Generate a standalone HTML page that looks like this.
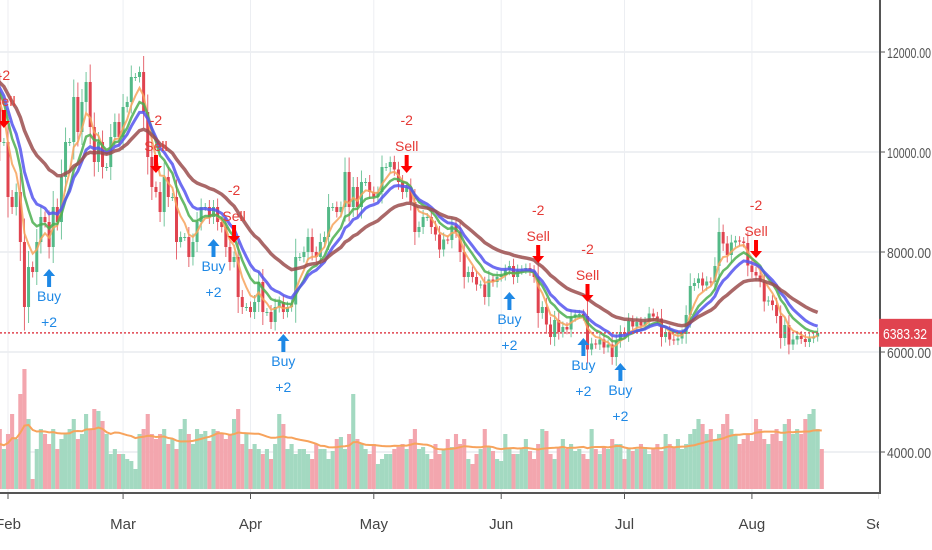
<!DOCTYPE html>
<html><head><meta charset="utf-8"><style>
html,body{margin:0;padding:0;background:#fff;}
svg{display:block;font-family:"Liberation Sans",sans-serif;}
</style></head><body>
<svg id="chart" width="932" height="550" viewBox="0 0 932 550"></svg>
<script>
const closes=[11500,11200,10200,10200,9100,8900,9200,8200,6900,7700,7600,8200,8700,8600,8100,8900,8600,9500,10200,10200,11100,10400,11000,11400,10500,9800,10200,9700,9700,10300,10600,10300,
10900,11000,11500,11500,11600,10800,9900,9300,9200,8800,9500,9100,9100,8200,8300,8300,7900,8200,8600,8900,8900,8700,8900,8600,8500,8100,7800,7900,7100,6900,6900,
6800,7000,7400,6800,6800,6600,6900,7000,6800,6900,6950,7900,7900,8000,8300,8000,7900,8200,8300,8900,8900,8800,8900,9600,8900,9300,8900,9400,9400,9200,
9100,9200,9700,9700,9800,9650,9400,9200,9300,9000,8400,8500,8700,8700,8500,8350,8050,8250,8240,8530,8400,8000,7500,7600,7500,7350,7350,7100,7450,7400,7500,
7540,7640,7720,7500,7630,7650,7680,7620,7500,6780,6900,6550,6300,6640,6400,6500,6450,6700,6750,6760,6720,6050,6170,6150,6250,6090,6150,5900,6220,6400,
6360,6620,6510,6600,6530,6600,6770,6710,6670,6300,6400,6250,6230,6270,6360,6740,7320,7380,7470,7330,7410,7400,7720,8400,8170,7940,8190,8230,8210,8180,7730,
7600,7530,7410,7010,7030,6940,6720,6280,6540,6150,6250,6320,6260,6200,6270,6310,6383];
const volumes=[30,45,60,40,55,75,50,95,120,70,10,40,60,55,45,60,40,50,55,60,70,50,55,75,60,80,78,68,55,35,40,35,35,30,28,20,
55,60,75,55,50,55,60,45,50,40,60,70,55,45,60,55,58,48,60,58,55,50,55,70,80,45,55,
40,45,40,35,40,30,45,75,65,40,45,35,40,40,35,30,45,40,40,30,38,50,52,40,55,95,50,45,40,35,45,
25,30,35,35,40,42,45,40,50,60,40,42,35,30,45,35,40,50,42,55,45,50,30,25,35,40,60,42,38,30,28,
55,40,35,35,40,50,38,30,45,60,58,35,30,42,50,40,45,38,40,35,30,60,40,35,42,40,50,45,45,30,
40,38,40,45,42,35,40,45,38,55,45,42,50,40,45,55,60,70,65,55,60,50,55,65,75,60,55,45,50,55,48,
70,60,50,45,55,60,48,65,70,55,60,55,70,75,80,60,40];
const sellIdx=[3,40,59,101,133,145,186];
const buyIdx=[14,54,71,126,144,153];
const yTicks=[12000,10000,8000,6000,4000];
const months=["Feb","Mar","Apr","May","Jun","Jul","Aug","Sep"];
const monthIdx=[4,32,63,93,124,154,185,216];
const lastPrice=6383.32;

const svg=document.getElementById('chart');
const NS='http://www.w3.org/2000/svg';
function el(t,a,p){const e=document.createElementNS(NS,t);for(const k in a)e.setAttribute(k,a[k]);(p||svg).appendChild(e);return e;}
const xS=i=>8+(i-4)*4.11;
const yS=p=>152-(p-10000)/20;
const volBase=489;
const vS=v=>volBase-v;

const defs=el('defs',{});
const cp=el('clipPath',{id:'plotclip'},defs);
el('rect',{x:0,y:0,width:879,height:550},cp);

const grid=el('g',{});

yTicks.forEach(t=>el('line',{x1:0,x2:880,y1:yS(t),y2:yS(t),stroke:'#e8ebef','stroke-width':1.5},grid));
monthIdx.forEach(i=>el('line',{x1:xS(i),x2:xS(i),y1:0,y2:493,stroke:'#eceef2','stroke-width':1},grid));

const vg=el('g',{});

const opens=closes.map((c,i)=>i?closes[i-1]:c*1.01);
volumes.forEach((v,i)=>{const up=closes[i]>=opens[i];
 const r=el('rect',{x:xS(i)-2.05,y:vS(v),width:4.11,height:v,fill:up?'#a3d9c1':'#f3a6ae'},vg);
 });
let vma=[];volumes.forEach((v,i)=>{const s=volumes.slice(Math.max(0,i-19),i+1);vma.push(s.reduce((a,b)=>a+b,0)/s.length);});
const vl=el('polyline',{points:vma.map((v,i)=>xS(i)+','+vS(v)).join(' '),fill:'none',stroke:'#f7a35c','stroke-width':2});


const cg=el('g',{});

closes.forEach((c,i)=>{const o=opens[i];const up=c>=o;const col=up?'#53b987':'#e0434f';
 const hi=Math.max(o,c)+Math.abs(c-o)*0.3+80, lo=Math.min(o,c)-Math.abs(c-o)*0.3-80;
 el('line',{x1:xS(i),x2:xS(i),y1:yS(hi),y2:yS(lo),stroke:col,'stroke-width':1,opacity:0.8},cg);
 const r=el('rect',{x:xS(i)-1.5,y:yS(Math.max(o,c)),width:3,height:Math.max(1,Math.abs(c-o)/20),fill:col},cg);
 });

function ema(n){const k=2/(n+1);let e=closes[0];return closes.map(c=>e=c*k+e*(1-k));}
[[5,'#f7a35c',2,'ema-fast-line'],[9,'#4caf50',2.5,'ema-mid-line'],[13,'#5555ee',3,'ema-slow-line'],[28,'#9b4e4e',3.5,'ema-long-line']].forEach(([n,c,w,nm])=>{
 const m=ema(n);const p=el('polyline',{points:m.map((v,i)=>xS(i)+','+yS(v)).join(' '),fill:'none',stroke:c,'stroke-width':w,opacity:0.85});
 });

const pl=el('line',{x1:0,x2:880,y1:yS(lastPrice),y2:yS(lastPrice),stroke:'#e0434f','stroke-width':1.5,'stroke-dasharray':'2,2'});


function arrow(x,y,down,col,g){const d=down?1:-1;
 el('rect',{x:x-2,y:down?y-18:y+7,width:4,height:11,fill:col},g);
 el('polygon',{points:`${x-6},${y-7*d} ${x+6},${y-7*d} ${x},${y}`,fill:col},g);}
sellIdx.forEach(i=>{const g=el('g',{});
 const y=yS(Math.max(closes[i],opens[i]))-14;const x=xS(i);
 arrow(x,y,true,'#f00',g);
 const t1=el('text',{x:x,y:y-48,'text-anchor':'middle','font-size':14,fill:'#e53935'},g);t1.textContent='-2';
 const t2=el('text',{x:x,y:y-22,'text-anchor':'middle','font-size':14,fill:'#e53935'},g);t2.textContent='Sell';});
buyIdx.forEach(i=>{const g=el('g',{});
 const y=yS(Math.min(closes[i],opens[i]))+22;const x=xS(i);
 arrow(x,y,false,'#1e88e5',g);
 const t1=el('text',{x:x,y:y+32,'text-anchor':'middle','font-size':14,fill:'#1e88e5'},g);t1.textContent='Buy';
 const t2=el('text',{x:x,y:y+58,'text-anchor':'middle','font-size':14,fill:'#1e88e5'},g);t2.textContent='+2';});

const ax=el('g',{});
el('rect',{x:880,y:0,width:52,height:550,fill:'#fff'},ax);
el('rect',{x:0,y:493,width:932,height:57,fill:'#fff'},ax);
el('line',{x1:880,x2:880,y1:0,y2:494,stroke:'#555','stroke-width':2},ax);
el('line',{x1:0,x2:881,y1:493,y2:493,stroke:'#555','stroke-width':2},ax);
yTicks.forEach(t=>{el('line',{x1:880,x2:885,y1:yS(t),y2:yS(t),stroke:'#555'},ax);
 const tx=el('text',{x:887,y:yS(t)+6,'font-size':15,fill:'#555',textLength:44,lengthAdjust:'spacingAndGlyphs'},ax);tx.textContent=t.toFixed(2);
 });
const xl=el('g',{'clip-path':'url(#plotclip)'},ax);
months.forEach((m,k)=>{const x=xS(monthIdx[k]);el('line',{x1:x,x2:x,y1:493,y2:499,stroke:'#555'},xl);
 const tx=el('text',{x:x,y:529,'text-anchor':'middle','font-size':15,fill:'#444'},xl);tx.textContent=m;
 });
const lb=el('g',{});
el('rect',{x:879,y:yS(lastPrice)-14,width:53,height:28,fill:'#e0434f'},lb);
const lt=el('text',{x:905,y:yS(lastPrice)+6,'text-anchor':'middle','font-size':15,fill:'#fff',textLength:44,lengthAdjust:'spacingAndGlyphs'},lb);lt.textContent=lastPrice.toFixed(2);
</script>
</body></html>
